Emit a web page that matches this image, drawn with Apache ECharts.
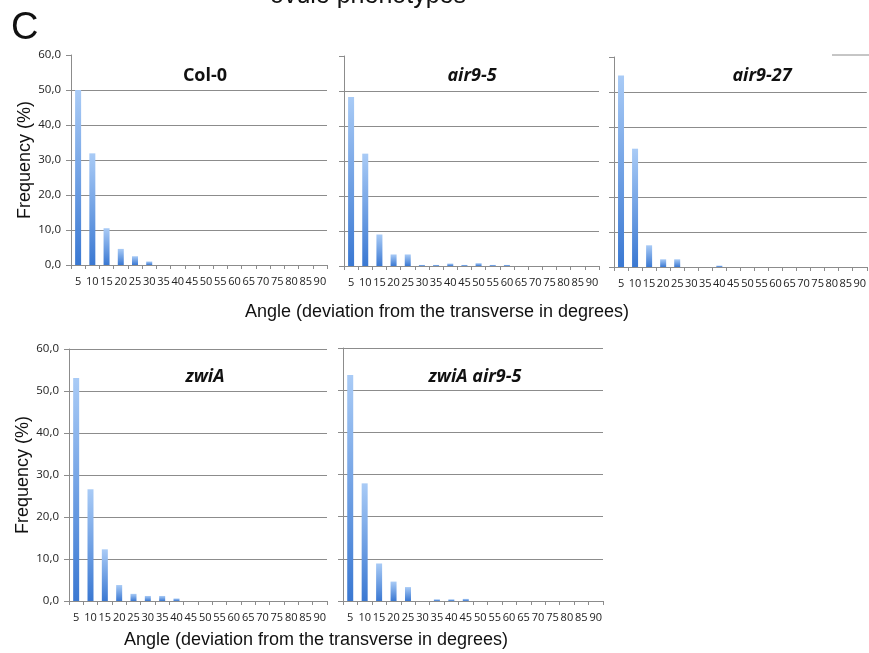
<!DOCTYPE html>
<html>
<head>
<meta charset="utf-8">
<script src="https://cdn.jsdelivr.net/npm/echarts@6/dist/echarts.min.js"></script>
<style>
  html, body { margin: 0; padding: 0; background: #fff; }
  #chart { width: 869px; height: 653px; }
</style>
</head>
<body>
<div id="chart"></div>
<script>
// 角度分类
const angles = ['5','10','15','20','25','30','35','40','45','50','55','60','65','70','75','80','85','90'];
const yTicks = [0, 10, 20, 30, 40, 50, 60];

// 各基因型的频率 (%)
const col0     = [50.0, 31.9, 10.5, 4.6, 2.5, 1.0, 0, 0, 0, 0, 0, 0, 0, 0, 0, 0, 0, 0];
const air95    = [48.3, 32.1, 9.0, 3.3, 3.3, 0.3, 0.3, 0.7, 0.3, 0.8, 0.3, 0.3, 0, 0, 0, 0, 0, 0];
const air927   = [54.7, 33.8, 6.2, 2.2, 2.2, 0, 0, 0.4, 0, 0, 0, 0, 0, 0, 0, 0, 0, 0];
const zwiA     = [53.1, 26.6, 12.3, 3.8, 1.7, 1.2, 1.2, 0.6, 0, 0, 0, 0, 0, 0, 0, 0, 0, 0];
const zwiAair  = [53.6, 27.9, 8.9, 4.6, 3.3, 0, 0.4, 0.4, 0.5, 0, 0, 0, 0, 0, 0, 0, 0, 0];

const panelTitles = ['Col-0', 'air9-5', 'air9-27', 'zwiA', 'zwiA air9-5'];
const panelData = [col0, air95, air927, zwiA, zwiAair];

const xName = 'Angle (deviation from the transverse in degrees)';
const yName = 'Frequency (%)';

const chart = echarts.init(document.getElementById('chart'));

// 面板布局
const grids = [
  { left: 71,  top: 55,  width: 256, height: 210 },
  { left: 344, top: 56,  width: 255, height: 210 },
  { left: 614, top: 57,  width: 255, height: 210 },
  { left: 69,  top: 349, width: 258, height: 252 },
  { left: 343, top: 348, width: 260, height: 253 }
];
const showYLabels = [true, false, false, true, false];
const topGridLine = [false, false, false, true, true];

const gray = '#8c8c8c';
const tickFont = { color: '#222', fontSize: 11, fontFamily: 'Open Sans' };

const xAxes = grids.map((g, i) => ({
  type: 'category',
  gridIndex: i,
  data: angles,
  boundaryGap: true,
  axisLine: { lineStyle: { color: gray, width: 1 } },
  axisTick: { show: true, length: 4, lineStyle: { color: gray } },
  axisLabel: Object.assign({ interval: 0, margin: 11 }, tickFont),
  splitLine: { show: false }
}));

const yAxes = grids.map((g, i) => {
  const lineColors = yTicks.map((v, k) => (k === yTicks.length - 1 && !topGridLine[i]) ? 'rgba(0,0,0,0)' : gray);
  return {
    type: 'value',
    gridIndex: i,
    min: 0,
    max: 60,
    interval: 10,
    name: showYLabels[i] ? yName : '',
    nameLocation: 'middle',
    nameGap: 36,
    nameTextStyle: { fontSize: 18, fontFamily: 'Liberation Sans', color: '#111' },
    axisLine: { show: true, lineStyle: { color: gray, width: 1 } },
    axisTick: { show: true, length: 5, lineStyle: { color: gray } },
    axisLabel: {
      show: showYLabels[i],
      margin: 10,
      color: '#222',
      fontSize: 11.5,
      fontFamily: 'Open Sans',
      formatter: v => v.toFixed(1).replace('.', ',')
    },
    splitLine: { show: true, lineStyle: { color: lineColors, width: 1 } }
  };
});

const barColor = new echarts.graphic.LinearGradient(0, 0, 0, 1, [
  { offset: 0, color: '#a9cbf6' },
  { offset: 1, color: '#3a78d2' }
]);

const series = panelData.map((d, i) => ({
  type: 'bar',
  xAxisIndex: i,
  yAxisIndex: i,
  data: d,
  barWidth: 6,
  itemStyle: { color: barColor },
  silent: true
}));

const titles = [
  { text: panelTitles[0], left: 200, top: 62, italic: false },
  { text: panelTitles[1], left: 467, top: 62, italic: true },
  { text: panelTitles[2], left: 757, top: 62, italic: true },
  { text: panelTitles[3], left: 200, top: 363, italic: true },
  { text: panelTitles[4], left: 470, top: 363, italic: true }
].map(t => ({
  text: t.text,
  left: t.left,
  top: t.top,
  textAlign: 'center',
  textStyle: {
    fontSize: 18,
    fontWeight: 'bold',
    fontStyle: t.italic ? 'italic' : 'normal',
    fontFamily: 'Open Sans',
    color: '#111'
  }
}));

const option = {
  backgroundColor: '#fff',
  animation: false,
  title: titles,
  grid: grids,
  xAxis: xAxes,
  yAxis: yAxes,
  series: series,
  graphic: [
    { type: 'text', left: 11, top: 10, style: { text: 'C', fontSize: 38, fontFamily: 'Liberation Sans', fill: '#111' } },
    { type: 'text', x: 368, y: -4, style: { text: 'ovule phenotypes', fontSize: 25, fontFamily: 'Liberation Sans', fill: '#111', align: 'center', verticalAlign: 'middle' } },
    { type: 'text', x: 437, y: 312, style: { text: xName, fontSize: 18, fontFamily: 'Liberation Sans', fill: '#111', align: 'center', verticalAlign: 'middle' } },
    { type: 'text', x: 316, y: 640, style: { text: xName, fontSize: 18, fontFamily: 'Liberation Sans', fill: '#111', align: 'center', verticalAlign: 'middle' } },
    { type: 'line', shape: { x1: 832, y1: 55, x2: 869, y2: 55 }, style: { stroke: gray, lineWidth: 1 } }
  ]
};

chart.setOption(option);

window.addEventListener('resize', function() {
  chart.resize();
});
</script>
</body>
</html>
